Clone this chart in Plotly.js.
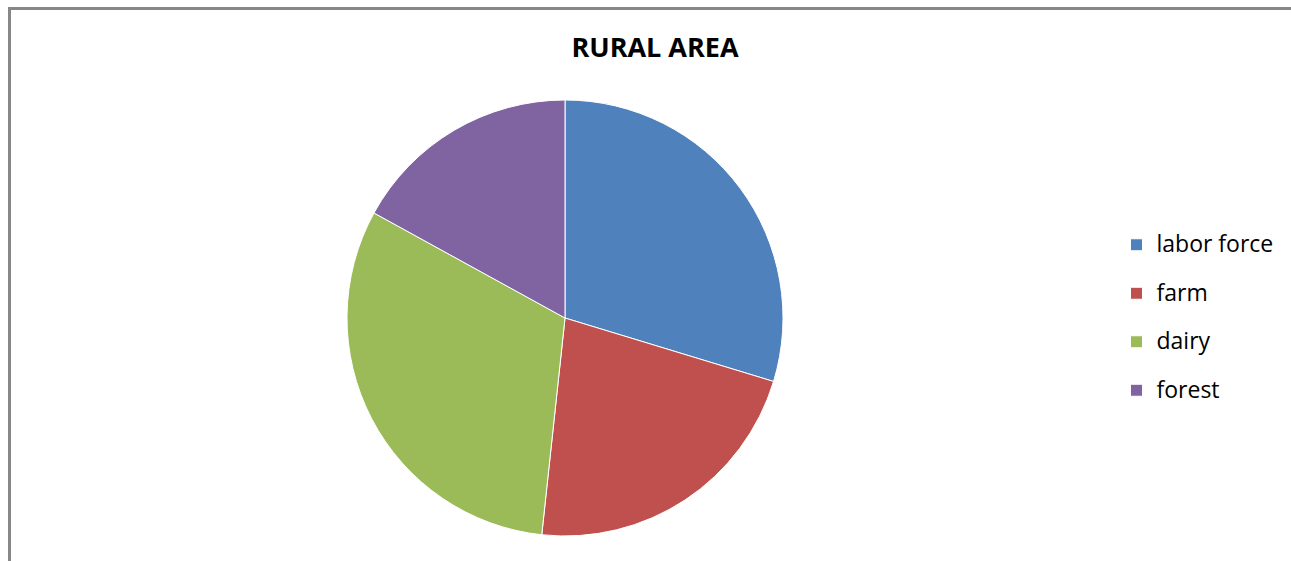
<!DOCTYPE html>
<html>
<head>
<meta charset="utf-8">
<script src="https://cdn.plot.ly/plotly-3.0.1.min.js"></script>
<style>
  html, body { margin: 0; padding: 0; background: #fff; overflow: hidden; }
  #chart { width: 1291px; height: 561px; }
  #frame { position: absolute; left: 8px; top: 7px; width: 1300px; height: 600px;
           border-top: 3px solid #878787; border-left: 3px solid #878787; pointer-events: none; }
</style>
</head>
<body>
<div id="chart"></div>
<div id="frame"></div>
<script>
const categories = ["labor force", "farm", "dairy", "forest"];
const values = [29.7, 22.0, 31.3, 17.0];
const colors = ["#4F81BD", "#C0504D", "#9BBB59", "#8064A2"];
const chartTitle = "RURAL AREA";

const W = 1291, H = 561;
const cx = 565, cy = 318, r = 218;

const trace = {
  type: "pie",
  labels: categories.map(c => '<span style="font-size:23px;baseline-shift:6px">' + c + '</span>'),
  values: values,
  sort: false,
  direction: "clockwise",
  rotation: 0,
  textinfo: "none",
  hoverinfo: "label+value",
  marker: { colors: colors, line: { color: "#ffffff", width: 1 } },
  domain: { x: [(cx - r) / W, (cx + r) / W], y: [1 - (cy + r) / H, 1 - (cy - r) / H] }
};

const layout = {
  width: W, height: H,
  margin: { l: 0, r: 0, t: 0, b: 0 },
  paper_bgcolor: "#ffffff",
  font: { family: "Open Sans, sans-serif", color: "#000000" },
  title: {
    text: "<b>" + chartTitle + "</b>",
    font: { family: "Open Sans, sans-serif", size: 27, color: "#000000" },
    xref: "container", yref: "container",
    x: 655 / W, y: 1 - 47.5 / H, xanchor: "center", yanchor: "middle"
  },
  showlegend: true,
  legend: {
    x: 1116.5 / W, xanchor: "left",
    y: 1 - 215.5 / H, yanchor: "top",
    font: { family: "Open Sans, sans-serif", size: 35, color: "#000000" },
    bgcolor: "rgba(0,0,0,0)"
  }
};

Plotly.newPlot("chart", [trace], layout, { displayModeBar: false, staticPlot: true });
</script>
</body>
</html>
